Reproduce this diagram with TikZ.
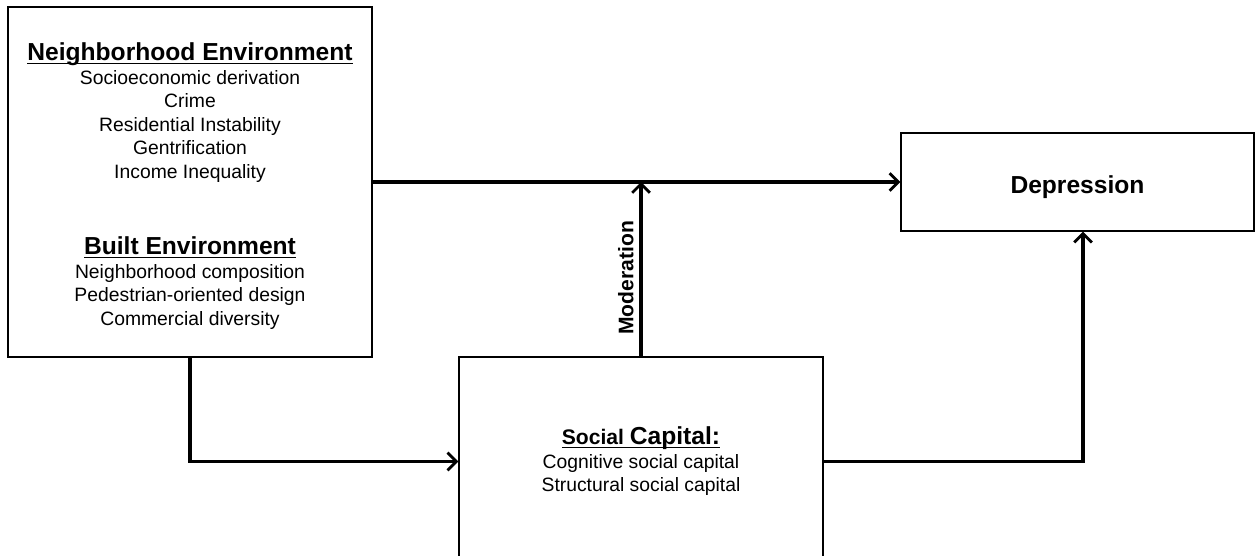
\documentclass[tikz,border=0pt]{standalone}
\usepackage{fontspec}
\setmainfont{Liberation Sans}
\usepackage{tikz}
\usetikzlibrary{arrows.meta,calc,positioning}

\tikzset{
  factor/.style={draw=black,line width=0.8pt,fill=white,align=center,
    font=\fontsize{11}{13.4}\selectfont},
  link/.style={line width=1.8pt,-{Straight Barb[length=5pt,width=10pt,line width=1.6pt]}}
}
\newcommand{\headfont}{\fontsize{14}{16}\selectfont\bfseries}
\newcommand{\ulbar}[1]{\setbox0\hbox{#1}\rlap{\rule[-2pt]{\wd0}{0.8pt}}\box0}

\begin{document}
\begin{tikzpicture}
    \useasboundingbox (0,0) rectangle (25.18,-11.12);
    \clip (0,0) rectangle (25.18,-11.12);
    % boxes
    \node[factor,minimum width=7.28cm,minimum height=7cm] (env) at (3.8,-3.64)
      {\rule{0pt}{14.7pt}{\headfont\ulbar{Neighborhood Environment}}\\
       Socioeconomic derivation\\ Crime\\ Residential Instability\\
       Gentrification\\ Income Inequality\\[30pt]
       {\headfont\ulbar{Built Environment}}\\
       Neighborhood composition\\ Pedestrian-oriented design\\ Commercial diversity};
    \node[factor,minimum width=7.06cm,minimum height=1.96cm,font=\headfont,
      text height=16pt,text depth=3pt] (depr) at (21.55,-3.64) {Depression};
    \node[factor,minimum width=7.28cm,minimum height=4.18cm] (social) at (12.82,-9.23)
      {\ulbar{\fontsize{12}{14}\selectfont\bfseries Social \headfont Capital:}\\
       Cognitive social capital\\ Structural social capital};
    % connectors
    \coordinate (mod) at (social.north |- env.east);
    \draw[link] (env.east) -- (depr.west);
    \draw[link] (social.north) -- node[pos=0.45,sloped,above,font=\fontsize{12}{14}\selectfont\bfseries] {Moderation} (mod);
    \draw[link] (env.south) |- (social.west);
    \draw[link] (social.east) -| ([xshift=0.11cm]depr.south);
\end{tikzpicture}
\end{document}
